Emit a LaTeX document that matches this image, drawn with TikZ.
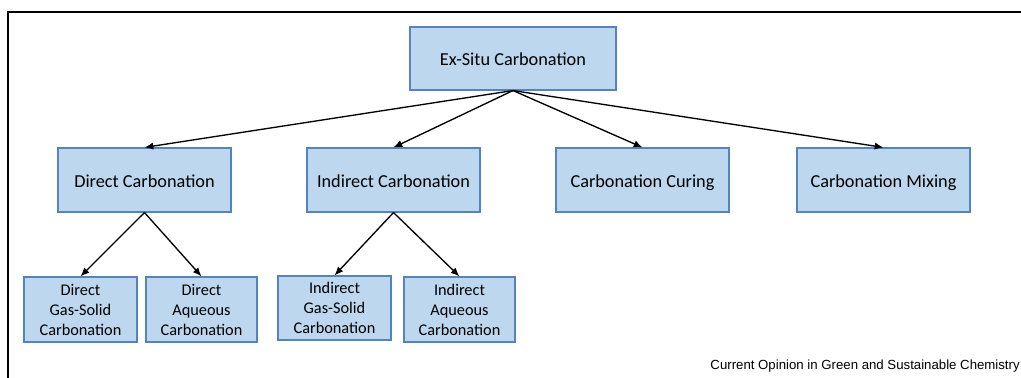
\documentclass[tikz,border=0pt]{standalone}
\usepackage{fontspec}
\setmainfont{Carlito}
\newfontfamily\captionfont{Liberation Sans}
\usepackage{xcolor}
\usepackage{tikz}
\usetikzlibrary{arrows.meta}
\usetikzlibrary{calc}
\definecolor{boxfill}{RGB}{189,215,238}
\definecolor{boxline}{RGB}{82,133,192}
\tikzstyle{box} = [draw=boxline, fill=boxfill, line width=0.8pt, inner sep=0pt, align=center]
\tikzstyle{arrow} = [line width=0.95pt, -{Latex[length=2.2mm,width=1.8mm]}]

\begin{document}
\begin{tikzpicture}
			\useasboundingbox (0,0) rectangle (25.525,-9.45);
			% Frame
			\draw[line width=0.9pt] (0.2,-9.45) -- (0.2,-0.3) -- (25.525,-0.3);
			
			% Top level
			\node (exsitu) [box,
			minimum width = 5.15cm,
			minimum height = 1.575cm,
			text height=10.5pt, text depth=0pt,
			font=\fontsize{13}{15}\selectfont
			] at (12.825,-1.4625) {Ex-Situ Carbonation};
			
			% Second level
			\node (direct) [box,
			minimum width = 4.325cm,
			minimum height = 1.6cm,
			text height=10.5pt, text depth=0pt,
			font=\fontsize{13}{15}\selectfont
			] at (3.6125,-4.5) {Direct Carbonation};
			
			\node (indirect) [box,
			minimum width = 4.325cm,
			minimum height = 1.6cm,
			text height=10.5pt, text depth=0pt,
			font=\fontsize{13}{15}\selectfont
			] at (9.8375,-4.5) {Indirect Carbonation};
			
			\node (curing) [box,
			minimum width = 4.325cm,
			minimum height = 1.6cm,
			text height=10.5pt, text depth=0pt,
			font=\fontsize{13}{15}\selectfont
			] at (16.0625,-4.5) {Carbonation Curing};
			
			\node (mixing) [box,
			minimum width = 4.325cm,
			minimum height = 1.6cm,
			text height=10.5pt, text depth=0pt,
			font=\fontsize{13}{15}\selectfont
			] at (22.0875,-4.5) {Carbonation Mixing};
			
			% Third level
			\node (dgas) [box,
			minimum width = 2.825cm,
			minimum height = 1.625cm,
			font=\fontsize{11.6}{14.2}\selectfont
			] at (2.0125,-7.7375) {Direct\\Gas-Solid\\Carbonation};
			
			\node (daq) [box,
			minimum width = 2.775cm,
			minimum height = 1.625cm,
			font=\fontsize{11.6}{14.2}\selectfont
			] at (5.0375,-7.7375) {Direct\\Aqueous\\Carbonation};
			
			\node (igas) [box,
			minimum width = 2.825cm,
			minimum height = 1.6cm,
			font=\fontsize{11.6}{14.2}\selectfont
			] at (8.3625,-7.7) {Indirect\\Gas-Solid\\Carbonation};
			
			\node (iaq) [box,
			minimum width = 2.775cm,
			minimum height = 1.625cm,
			font=\fontsize{11.6}{14.2}\selectfont
			] at (11.4875,-7.7375) {Indirect\\Aqueous\\Carbonation};
			
			\draw [arrow] (exsitu.south) -- (direct.north);
			\draw [arrow] (exsitu.south) -- (indirect.north);
			\draw [arrow] (exsitu.south) -- (curing.north);
			\draw [arrow] (exsitu.south) -- (mixing.north);
			\draw [arrow] (direct.south) -- (dgas.north);
			\draw [arrow] (direct.south) -- (daq.north);
			\draw [arrow] (indirect.south) -- (igas.north);
			\draw [arrow] (indirect.south) -- (iaq.north);
			
			\node (source) [anchor=east, inner sep=0pt,
			font=\captionfont\fontsize{9.4}{11}\selectfont
			] at (25.5,-9.15) {Current Opinion in Green and Sustainable Chemistry};
		\end{tikzpicture}
\end{document}
